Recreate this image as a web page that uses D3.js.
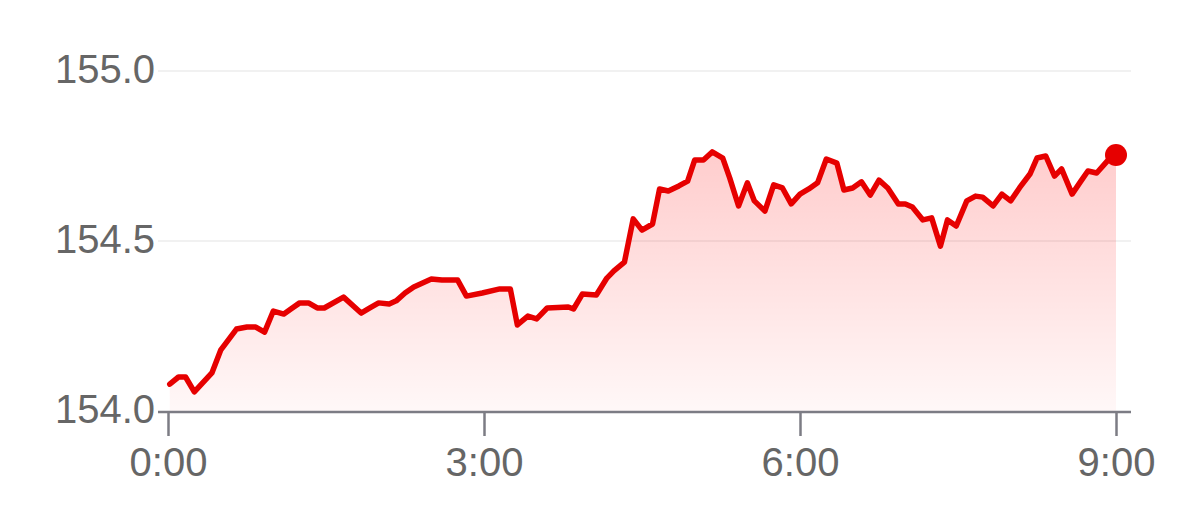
<!doctype html>
<html lang="ja">
<head>
  <meta charset="utf-8">
  <title>154-155</title>
  <script src="https://cdn.jsdelivr.net/npm/d3@7/dist/d3.min.js"></script>
</head>
<body style="margin:0;background:#fff;">
<style>
.chart text {
  fill: #666;
  font-family: "Liberation Sans", Arial, sans-serif;
  font-size: 40px;
}
</style>
<svg class="chart"></svg>
<script>
// minutes since 0:00
var times = [1, 6, 10, 15, 25, 30, 39, 45, 50, 55, 60, 66, 70, 75, 80, 85, 89, 100, 110, 115,
  120, 126, 130, 135, 140, 150, 156, 165, 170, 179, 189, 195, 199, 205, 210, 216, 228, 231, 236, 244,
  250, 254, 260, 265, 270, 276, 280, 285, 291, 296, 300, 305, 310, 316, 320, 325, 330, 334, 340, 345,
  350, 355, 360, 365, 370, 375, 381, 385, 390, 395, 400, 405, 410, 416, 420, 424, 430, 435, 440, 444,
  449, 455, 460, 464, 470, 475, 480, 485, 491, 495, 500, 505, 509, 515, 520, 524, 529, 535, 540];
var values = [154.079, 154.100, 154.100, 154.056, 154.112, 154.179, 154.241, 154.247, 154.247, 154.232,
  154.294, 154.285, 154.300, 154.318, 154.318, 154.303, 154.303, 154.335, 154.288, 154.303,
  154.318, 154.315, 154.324, 154.347, 154.365, 154.388, 154.385, 154.385, 154.338, 154.347,
  154.359, 154.359, 154.253, 154.279, 154.271, 154.303, 154.306, 154.300, 154.344, 154.341,
  154.391, 154.412, 154.438, 154.565, 154.532, 154.550, 154.653, 154.647, 154.662, 154.676,
  154.738, 154.738, 154.762, 154.744, 154.685, 154.603, 154.671, 154.618, 154.588, 154.665,
  154.656, 154.609, 154.638, 154.653, 154.671, 154.741, 154.729, 154.650, 154.656, 154.674,
  154.635, 154.679, 154.656, 154.609, 154.609, 154.600, 154.562, 154.568, 154.485, 154.562,
  154.544, 154.618, 154.632, 154.629, 154.603, 154.638, 154.618, 154.656, 154.697, 154.744,
  154.750, 154.691, 154.712, 154.638, 154.676, 154.706, 154.700, 154.735, 154.753];
var yTicks = [154.0, 154.5, 155.0];
var xTicks = [0, 180, 360, 540];
var xLabels = ["0:00", "3:00", "6:00", "9:00"];

var width = 1179, height = 509;
var red = "#e60000";

var data = times.map(function(t, i) { return {t: t, v: values[i]}; });

var x = d3.scaleLinear().domain([0, 540]).range([168, 1116]);
var y = d3.scaleLinear().domain([154, 155]).range([411, 71]);

var svg = d3.select(".chart")
  .attr("width", width)
  .attr("height", height);

var grad = svg.append("defs").append("linearGradient")
  .attr("id", "fill")
  .attr("gradientUnits", "userSpaceOnUse")
  .attr("x1", 0).attr("x2", 0)
  .attr("y1", y(154.77)).attr("y2", y(154));
grad.append("stop").attr("offset", 0).attr("stop-color", "#ff0000").attr("stop-opacity", 0.2);
grad.append("stop").attr("offset", 1).attr("stop-color", "#ff0000").attr("stop-opacity", 0.03);

// grid
svg.selectAll(".grid")
  .data(yTicks.slice(1))
  .enter().append("line")
  .attr("x1", 158).attr("x2", 1131)
  .attr("y1", function(d) { return y(d); })
  .attr("y2", function(d) { return y(d); })
  .attr("stroke", "#f1f1f1")
  .attr("stroke-width", 2);

svg.append("path")
  .datum(data)
  .attr("fill", "url(#fill)")
  .attr("d", d3.area()
    .x(function(d) { return x(d.t); })
    .y0(y(154))
    .y1(function(d) { return y(d.v); }));

// x axis
var xAxis = svg.append("g")
  .attr("transform", "translate(0," + 412 + ")")
  .call(d3.axisBottom(x).tickValues(xTicks).tickSize(24).tickPadding(8)
    .tickFormat(function(d, i) { return xLabels[i]; }));
xAxis.select(".domain").remove();
xAxis.selectAll(".tick line").attr("stroke", "#7c7c84").attr("stroke-width", 2.5);
xAxis.selectAll(".tick text").attr("fill", "#666").style("font-size", "40px").attr("dy", "0.8em")
  .style("font-family", '"Liberation Sans", Arial, sans-serif');
svg.append("line")
  .attr("x1", 158).attr("x2", 1131)
  .attr("y1", 412).attr("y2", 412)
  .attr("stroke", "#7c7c84").attr("stroke-width", 2.5);

// y labels
svg.selectAll(".ylab")
  .data(yTicks)
  .enter().append("text")
  .attr("x", 155)
  .attr("y", function(d) { return y(d) - 2; })
  .attr("dy", "0.35em")
  .attr("text-anchor", "end")
  .text(function(d) { return d.toFixed(1); });

svg.append("path")
  .datum(data)
  .attr("fill", "none")
  .attr("stroke", red)
  .attr("stroke-width", 5.5)
  .attr("stroke-linejoin", "round")
  .attr("stroke-linecap", "round")
  .attr("d", d3.line()
    .x(function(d) { return x(d.t); })
    .y(function(d) { return y(d.v); }));

var last = data[data.length - 1];
svg.append("circle")
  .attr("cx", x(last.t))
  .attr("cy", y(last.v))
  .attr("r", 11)
  .attr("fill", red);
</script>
</body>
</html>
